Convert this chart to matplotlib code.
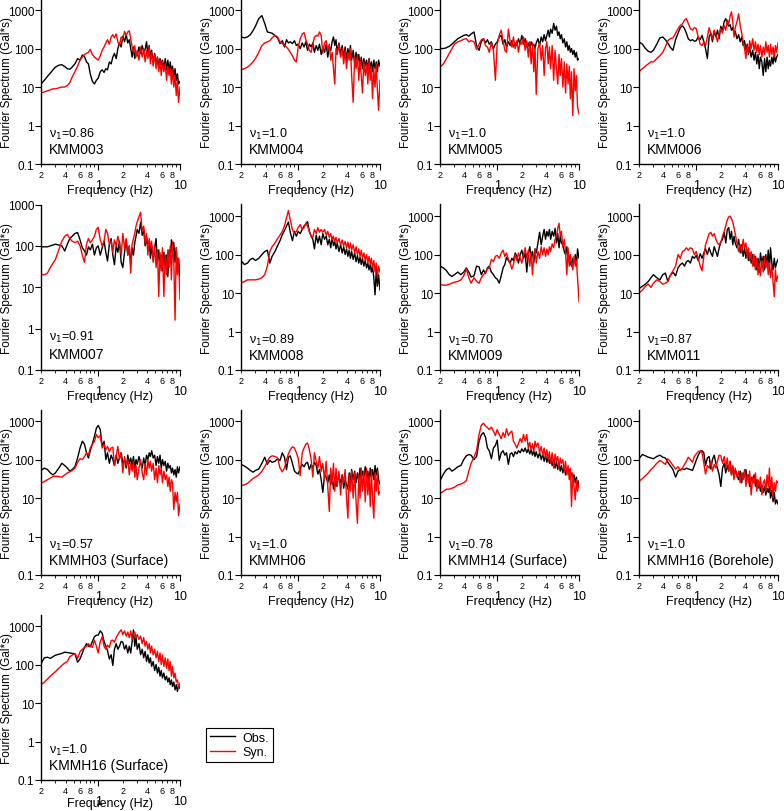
import matplotlib
matplotlib.use("Agg")
import matplotlib.pyplot as plt
from matplotlib.lines import Line2D
from matplotlib.ticker import FixedLocator, FixedFormatter

plt.rcParams['font.family'] = ['Liberation Sans', 'DejaVu Sans']

# frequency grid (Hz)
freq = [0.20, 0.22, 0.24, 0.26, 0.28, 0.30, 0.33, 0.36, 0.39, 0.42, 0.45, 0.48,
        0.52, 0.56, 0.60, 0.64, 0.68, 0.72, 0.76, 0.80, 0.85, 0.90, 0.95,
        1.00, 1.06, 1.12, 1.18, 1.24, 1.30, 1.37, 1.44, 1.51, 1.58, 1.66, 1.74,
        1.82, 1.91, 2.00,
        2.1, 2.2, 2.3, 2.4, 2.5, 2.6, 2.7, 2.8, 2.9, 3.0,
        3.15, 3.3, 3.45, 3.6, 3.75, 3.9, 4.05, 4.2, 4.35, 4.5,
        4.7, 4.9, 5.1, 5.3, 5.5, 5.7, 5.9, 6.1, 6.35, 6.6,
        6.85, 7.1, 7.35, 7.6, 7.85, 8.1, 8.4, 8.7, 9.0, 9.3,
        9.6, 10.0]

kmm003_obs = [12, 15, 19, 23, 28, 33, 37, 38, 34, 30, 29, 33, 40, 55, 50, 68, 62, 45, 40, 22, 14, 12, 15,
              17, 25, 28, 24, 30, 28, 45, 40, 60, 75, 55, 100, 140, 110, 210,
              150, 230, 140, 170, 100, 60, 110, 55, 80, 65, 110, 75, 120, 80, 95, 150, 70, 120, 55, 90,
              45, 75, 40, 60, 35, 55, 38, 50, 30, 55, 28, 50, 25, 45, 22, 35, 18, 30, 15, 22, 12, 14]
kmm003_syn = [7, 7.5, 8, 8.5, 9, 9, 9.5, 10, 10, 11, 13, 18, 25, 35, 50, 60, 70, 75, 80, 95, 70, 60, 55,
              50, 65, 90, 110, 140, 170, 130, 200, 230, 190, 240, 150, 120, 200, 180,
              280, 220, 270, 290, 180, 110, 80, 120, 60, 90, 50, 110, 60, 100, 45, 90, 55, 110, 40, 80,
              35, 70, 30, 60, 25, 50, 20, 45, 25, 40, 15, 35, 20, 30, 12, 28, 10, 20, 6, 15, 4, 10]

kmm004_obs = [200, 190, 200, 230, 290, 380, 600, 720, 450, 270, 260, 250, 220, 190, 135, 160, 110, 170, 140, 150, 135, 160, 120,
              130, 100, 140, 110, 150, 90, 130, 110, 140, 80, 120, 90, 130, 70, 110,
              80, 130, 60, 110, 90, 150, 200, 120, 170, 80, 140, 70, 120, 60, 110, 50, 100, 60, 120, 50,
              90, 40, 80, 45, 70, 35, 60, 30, 55, 35, 50, 28, 55, 30, 45, 25, 50, 30, 45, 25, 50, 35]
kmm004_syn = [28, 30, 33, 38, 45, 55, 80, 120, 140, 150, 160, 190, 220, 200, 150, 135, 120, 110, 95, 80, 65, 50, 45,
              110, 180, 240, 260, 170, 130, 90, 80, 130, 200, 220, 210, 270, 220, 75,
              140, 160, 90, 130, 50, 80, 30, 12, 100, 70, 130, 60, 100, 40, 90, 30, 80, 50, 100, 20,
              4, 60, 30, 70, 15, 50, 20, 7, 45, 20, 40, 12, 50, 15, 35, 5, 30, 10, 40, 8, 2.5, 15]

kmm005_obs = [100, 100, 105, 115, 130, 150, 180, 200, 220, 230, 210, 240, 270, 120, 90, 150, 180, 140, 170, 130, 150, 100, 130,
              150, 200, 220, 130, 170, 110, 150, 120, 160, 110, 140, 120, 180, 130, 220,
              130, 180, 110, 140, 100, 150, 120, 130, 100, 140, 180, 120, 200, 150, 230, 160, 220, 300, 200, 320,
              250, 450, 300, 380, 220, 270, 180, 230, 140, 180, 110, 150, 90, 120, 80, 100, 70, 90, 60, 80, 50, 55]
kmm005_syn = [33, 40, 55, 75, 100, 130, 150, 160, 175, 180, 150, 160, 150, 95, 130, 170, 180, 120, 110, 80, 140, 90, 15,
              130, 220, 300, 160, 90, 80, 320, 150, 110, 200, 100, 160, 80, 150, 130,
              200, 90, 160, 60, 150, 40, 140, 25, 110, 6.5, 100, 140, 50, 120, 20, 100, 150, 40, 110, 30,
              120, 15, 90, 30, 12, 70, 20, 55, 10, 45, 7, 40, 12, 35, 5, 25, 1.8, 30, 8, 20, 3, 2]

kmm006_obs = [150, 130, 100, 85, 80, 90, 130, 190, 200, 170, 140, 110, 90, 170, 250, 350, 390, 330, 250, 180, 160, 170, 155,
              160, 200, 170, 220, 150, 100, 55, 200, 250, 150, 280, 200, 300, 180, 380,
              300, 500, 600, 450, 380, 420, 300, 350, 250, 280, 180, 230, 150, 200, 120, 160, 90, 130, 70, 110,
              60, 90, 50, 80, 40, 70, 30, 60, 45, 20, 55, 25, 60, 30, 50, 35, 60, 40, 70, 45, 60, 70]
kmm006_syn = [25, 30, 35, 40, 45, 45, 55, 65, 80, 110, 160, 180, 190, 250, 330, 400, 440, 550, 600, 450, 330, 300, 350,
              330, 200, 130, 120, 150, 120, 200, 350, 250, 180, 300, 220, 150, 250, 330,
              250, 400, 300, 550, 450, 700, 900, 500, 200, 350, 500, 800, 400, 250, 150, 100, 55, 120, 80, 160,
              100, 180, 90, 150, 80, 130, 70, 120, 60, 110, 70, 150, 80, 120, 60, 130, 70, 110, 60, 120, 80, 140]

kmm007_obs = [95, 95, 95, 100, 105, 110, 105, 100, 75, 110, 150, 170, 200, 210, 140, 90, 75, 60, 95, 80, 110, 60, 90,
              100, 60, 90, 130, 70, 43, 110, 150, 60, 35, 100, 70, 130, 40, 30,
              70, 140, 60, 100, 35, 90, 60, 120, 170, 250, 200, 370, 180, 250, 100, 160, 90, 130, 50, 100,
              45, 90, 150, 40, 80, 30, 60, 25, 70, 30, 60, 18, 80, 40, 140, 70, 120, 40, 90, 30, 50, 16]
kmm007_syn = [20, 20, 22, 30, 38, 47, 80, 130, 170, 190, 150, 130, 120, 130, 100, 60, 40, 110, 150, 120, 140, 170, 250,
              280, 140, 100, 130, 250, 200, 110, 130, 70, 140, 100, 170, 115, 60, 200,
              90, 150, 60, 100, 22, 110, 150, 200, 300, 380, 500, 650, 220, 300, 120, 200, 60, 150, 90, 130,
              40, 100, 30, 80, 6, 70, 25, 90, 6, 60, 20, 80, 30, 100, 15, 130, 40, 1.6, 90, 20, 50, 5]

kmm008_obs = [70, 55, 60, 75, 80, 70, 80, 100, 120, 130, 60, 90, 120, 170, 230, 330, 420, 550, 700, 380, 230, 400, 300,
              400, 350, 450, 550, 620, 720, 400, 300, 250, 140, 320, 200, 300, 180, 350,
              250, 300, 180, 250, 150, 280, 170, 220, 140, 200, 120, 180, 110, 160, 100, 140, 90, 130, 80, 120,
              75, 110, 65, 95, 60, 85, 55, 80, 50, 70, 45, 60, 40, 55, 35, 50, 25, 9, 40, 15, 30, 12]
kmm008_syn = [18, 20, 22, 22, 22, 22, 23, 25, 30, 50, 120, 160, 200, 260, 320, 400, 550, 900, 1400, 800, 450, 350, 400,
              500, 600, 450, 500, 650, 550, 400, 300, 280, 450, 350, 500, 380, 450, 380,
              450, 320, 400, 280, 350, 240, 300, 220, 280, 200, 260, 180, 240, 170, 220, 150, 210, 140, 200, 130,
              180, 110, 160, 100, 140, 90, 130, 80, 110, 70, 100, 60, 90, 55, 80, 45, 70, 35, 60, 25, 50, 35]

kmm009_obs = [50, 45, 38, 30, 27, 30, 35, 30, 35, 45, 35, 26, 28, 50, 48, 30, 40, 32, 45, 50, 35, 30, 25,
              23, 18, 28, 45, 55, 85, 70, 60, 80, 70, 110, 90, 60, 100, 130,
              80, 110, 35, 100, 160, 90, 120, 60, 140, 110, 200, 380, 180, 300, 450, 250, 400, 300, 450, 250,
              400, 300, 480, 200, 350, 150, 300, 200, 180, 120, 100, 160, 70, 90, 60, 50, 80, 60, 100, 50, 140, 80]
kmm009_syn = [17, 16, 16, 17, 18, 19, 20, 22, 28, 42, 25, 18, 25, 20, 18, 25, 30, 35, 42, 45, 75, 65, 90,
              95, 80, 110, 130, 90, 110, 75, 60, 42, 55, 100, 70, 110, 80, 60,
              100, 150, 80, 130, 50, 110, 30, 90, 140, 60, 120, 80, 160, 100, 150, 90, 140, 100, 160, 120,
              190, 150, 250, 300, 480, 650, 300, 400, 150, 250, 120, 30, 150, 50, 100, 60, 40, 90, 50, 70, 25, 6]

kmm011_obs = [13, 15, 17, 20, 25, 30, 25, 22, 30, 33, 20, 28, 35, 28, 45, 55, 60, 50, 65, 70, 60, 90, 80,
              95, 70, 105, 80, 110, 140, 100, 150, 110, 90, 160, 120, 90, 150, 210,
              250, 380, 200, 450, 500, 250, 400, 180, 300, 200, 150, 250, 110, 180, 90, 150, 80, 130, 70, 110,
              60, 100, 50, 90, 40, 80, 35, 110, 60, 90, 40, 100, 50, 130, 40, 150, 60, 40, 80, 45, 60, 75]
kmm011_syn = [10, 12, 15, 17, 14, 18, 22, 20, 17, 18, 20, 28, 38, 50, 100, 80, 120, 130, 150, 130, 150, 140, 100,
              120, 80, 50, 38, 90, 180, 250, 350, 380, 300, 350, 250, 200, 180, 210,
              300, 400, 560, 800, 950, 1000, 850, 700, 500, 350, 200, 120, 180, 110, 250, 150, 200, 90, 150, 70,
              120, 50, 100, 40, 80, 30, 60, 28, 70, 35, 90, 45, 70, 30, 60, 25, 50, 20, 8, 40, 20, 28]

kmmh03_obs = [52, 60, 55, 45, 40, 45, 60, 80, 70, 60, 50, 55, 65, 110, 200, 300, 250, 150, 110, 170, 260, 400, 650,
              770, 600, 220, 300, 100, 150, 80, 130, 100, 70, 130, 80, 110, 150, 80,
              100, 60, 130, 80, 110, 70, 120, 60, 100, 75, 120, 80, 60, 110, 70, 130, 100, 150, 120, 170,
              110, 130, 70, 120, 80, 130, 60, 100, 70, 90, 50, 80, 60, 70, 45, 60, 40, 55, 35, 65, 45, 65]
kmmh03_syn = [24, 27, 30, 33, 36, 37, 36, 35, 40, 45, 48, 52, 60, 85, 105, 100, 120, 150, 130, 200, 250, 300, 450,
              370, 420, 200, 250, 180, 220, 160, 200, 210, 70, 120, 220, 100, 150, 45,
              120, 70, 100, 40, 80, 50, 90, 35, 70, 30, 60, 100, 45, 30, 80, 40, 100, 60, 90, 50,
              80, 30, 60, 25, 70, 40, 60, 25, 50, 30, 40, 20, 35, 15, 30, 25, 5, 14, 8, 14, 3.5, 7]

kmmh06_obs = [75, 68, 60, 52, 47, 52, 57, 80, 115, 75, 95, 85, 90, 105, 95, 150, 115, 55, 115, 125, 80, 50, 45,
              42, 60, 75, 65, 80, 85, 55, 75, 60, 85, 70, 42, 55, 30, 14,
              40, 35, 25, 40, 22, 35, 17, 30, 20, 28, 35, 25, 40, 18, 30, 22, 17, 45, 25, 55,
              30, 50, 25, 45, 28, 60, 30, 50, 35, 65, 30, 50, 25, 60, 35, 55, 30, 70, 40, 60, 30, 23]
kmmh06_syn = [21, 22, 24, 28, 32, 35, 40, 50, 65, 90, 115, 125, 120, 110, 60, 48, 60, 100, 140, 180, 215, 200, 150,
              110, 38, 150, 200, 250, 270, 180, 100, 35, 150, 90, 60, 120, 50, 80,
              30, 90, 20, 4.5, 60, 25, 80, 15, 60, 20, 50, 12, 40, 25, 55, 10, 3, 40, 15, 50,
              10, 45, 8, 2.2, 40, 10, 60, 15, 50, 8, 60, 12, 40, 6, 55, 10, 3, 45, 15, 50, 12, 15]

kmmh14_obs = [28, 42, 55, 60, 50, 55, 65, 70, 100, 125, 135, 130, 100, 120, 300, 440, 500, 380, 200, 170, 105, 200, 230,
              320, 95, 150, 170, 130, 150, 75, 140, 150, 120, 160, 140, 170, 150, 190,
              160, 200, 150, 190, 140, 180, 130, 170, 120, 160, 110, 150, 100, 140, 90, 130, 85, 120, 80, 110,
              70, 100, 60, 90, 55, 80, 50, 70, 45, 65, 40, 60, 45, 55, 38, 45, 30, 40, 25, 35, 20, 28]
kmmh14_syn = [13, 15, 17, 17, 18, 19, 22, 23, 25, 28, 50, 80, 115, 170, 450, 780, 880, 750, 680, 600, 700, 550, 420,
              600, 450, 350, 500, 380, 630, 420, 500, 550, 300, 250, 200, 260, 350, 280,
              450, 300, 450, 200, 280, 180, 260, 160, 300, 220, 270, 150, 220, 130, 200, 110, 180, 100, 160, 80,
              150, 60, 140, 90, 120, 60, 110, 80, 100, 50, 90, 40, 70, 30, 60, 6, 45, 20, 9, 30, 15, 25]

kmmh16b_obs = [105, 135, 125, 115, 110, 105, 120, 130, 115, 110, 85, 70, 55, 35, 50, 55, 57, 55, 60, 57, 55, 52, 70,
               95, 130, 160, 170, 150, 70, 110, 120, 57, 100, 130, 80, 60, 40, 20,
               60, 80, 45, 70, 50, 90, 40, 65, 35, 55, 40, 30, 50, 25, 45, 35, 55, 30, 40, 20,
               35, 25, 40, 20, 30, 18, 25, 15, 22, 14, 20, 12, 18, 14, 20, 10, 16, 8, 14, 7, 9, 7]
kmmh16b_syn = [27, 32, 38, 45, 55, 63, 80, 95, 85, 75, 105, 90, 70, 57, 65, 52, 60, 75, 90, 115, 100, 85, 120,
               140, 160, 170, 150, 80, 42, 70, 60, 90, 50, 75, 60, 90, 130, 125,
               80, 120, 60, 110, 50, 90, 40, 70, 30, 60, 35, 50, 25, 45, 30, 55, 20, 40, 25, 50,
               12, 35, 25, 45, 15, 30, 20, 35, 12, 25, 30, 15, 40, 20, 60, 15, 35, 10, 25, 15, 28, 25]

kmmh16s_obs = [105, 150, 155, 145, 160, 175, 185, 195, 210, 205, 200, 195, 190, 115, 140, 200, 280, 350, 300, 290, 400, 530, 580,
               580, 750, 650, 400, 300, 230, 140, 180, 95, 250, 350, 250, 300, 400, 380,
               250, 320, 200, 300, 200, 400, 800, 300, 500, 250, 350, 180, 250, 150, 220, 120, 180, 110, 150, 90,
               120, 70, 100, 60, 85, 50, 70, 45, 60, 40, 50, 35, 45, 30, 40, 27, 35, 22, 30, 20, 28, 24]
kmmh16s_syn = [30, 35, 42, 50, 58, 65, 80, 95, 110, 120, 160, 175, 195, 145, 215, 250, 280, 300, 350, 300, 280, 430, 300,
               200, 400, 530, 300, 250, 320, 280, 420, 430, 380, 500, 600, 700, 800, 600,
               750, 550, 700, 500, 750, 450, 650, 700, 500, 600, 450, 550, 350, 500, 300, 400, 250, 350, 200, 300,
               180, 250, 150, 220, 120, 200, 100, 180, 90, 150, 80, 140, 70, 120, 50, 90, 45, 60, 35, 40, 25, 33]

stations = ['KMM003', 'KMM004', 'KMM005', 'KMM006',
            'KMM007', 'KMM008', 'KMM009', 'KMM011',
            'KMMH03 (Surface)', 'KMMH06', 'KMMH14 (Surface)', 'KMMH16 (Borehole)',
            'KMMH16 (Surface)']
nu1 = ['0.86', '1.0', '1.0', '1.0', '0.91', '0.89', '0.70', '0.87',
       '0.57', '1.0', '0.78', '1.0', '1.0']
obs_all = [kmm003_obs, kmm004_obs, kmm005_obs, kmm006_obs, kmm007_obs, kmm008_obs,
           kmm009_obs, kmm011_obs, kmmh03_obs, kmmh06_obs, kmmh14_obs, kmmh16b_obs, kmmh16s_obs]
syn_all = [kmm003_syn, kmm004_syn, kmm005_syn, kmm006_syn, kmm007_syn, kmm008_syn,
           kmm009_syn, kmm011_syn, kmmh03_syn, kmmh06_syn, kmmh14_syn, kmmh16b_syn, kmmh16s_syn]
ytops = [2000, 2000, 2000, 2000, 1000, 2000, 2000, 2000, 2000, 2000, 2000, 2000, 2000]

W, H = 784, 812
fig = plt.figure(figsize=(W / 100, H / 100), dpi=100)

col_x = [41, 241, 440, 639]
row_bottom = [165, 371, 576, 781]
ax_w = 139
ax_h = 165.5

minor_pos = [0.2, 0.3, 0.4, 0.5, 0.6, 0.7, 0.8, 0.9, 2, 3, 4, 5, 6, 7, 8, 9]
minor_lab = ['2', '', '4', '', '6', '', '8', '', '2', '', '4', '', '6', '', '8', '']

for i, name in enumerate(stations):
    r, c = divmod(i, 4)
    ax = fig.add_axes([col_x[c] / W, 1 - row_bottom[r] / H, ax_w / W, ax_h / H])
    ax.plot(freq, obs_all[i], color='black', lw=1.0)
    ax.plot(freq, syn_all[i], color='red', lw=1.0)
    ax.set_xscale('log')
    ax.set_yscale('log')
    ax.set_xlim(0.2, 10)
    ax.set_ylim(0.1, ytops[i])
    for s in ['top', 'right']:
        ax.spines[s].set_visible(False)
    for s in ['left', 'bottom']:
        ax.spines[s].set_linewidth(1.0)

    ax.yaxis.set_major_locator(FixedLocator([0.1, 1, 10, 100, 1000]))
    ax.yaxis.set_major_formatter(FixedFormatter(['0.1', '1', '10', '100', '1000']))
    ax.yaxis.set_minor_locator(FixedLocator([]))
    ax.tick_params(axis='y', which='major', direction='out', length=4, pad=1, labelsize=8.5)

    ax.xaxis.set_major_locator(FixedLocator([1, 10]))
    ax.xaxis.set_major_formatter(FixedFormatter(['1', '10']))
    ax.xaxis.set_minor_locator(FixedLocator(minor_pos))
    ax.xaxis.set_minor_formatter(FixedFormatter(minor_lab))
    ax.tick_params(axis='x', which='major', direction='out', length=4, pad=7, labelsize=9)
    ax.tick_params(axis='x', which='minor', direction='out', length=2.5, pad=1.5, labelsize=6.5)

    xl_y = -0.14 if r == 3 else -0.158
    ax.text(0.5, xl_y, 'Frequency (Hz)', transform=ax.transAxes,
            ha='center', va='center', fontsize=9)
    ax.text(-0.245, 0.5, 'Fourier Spectrum (Gal*s)', transform=ax.transAxes,
            ha='center', va='center', rotation=90, fontsize=8.5)
    ax.text(0.25, 0.64, 'ν$_1$=' + nu1[i], fontsize=9, ha='left', va='center')
    ax.text(0.25, 0.245, name, fontsize=10, ha='left', va='center')

handles = [Line2D([], [], color='black', lw=1.0), Line2D([], [], color='red', lw=1.0)]
leg = fig.legend(handles, ['Obs.', 'Syn.'], loc='upper left',
                 bbox_to_anchor=(206 / W, 1 - 729 / H), fontsize=9,
                 frameon=True, fancybox=False, edgecolor='black', framealpha=1,
                 borderpad=0.3, handlelength=2.0, handletextpad=0.6,
                 labelspacing=0.2, borderaxespad=0)
leg.get_frame().set_linewidth(0.8)

fig.savefig('out.png', dpi=100)
